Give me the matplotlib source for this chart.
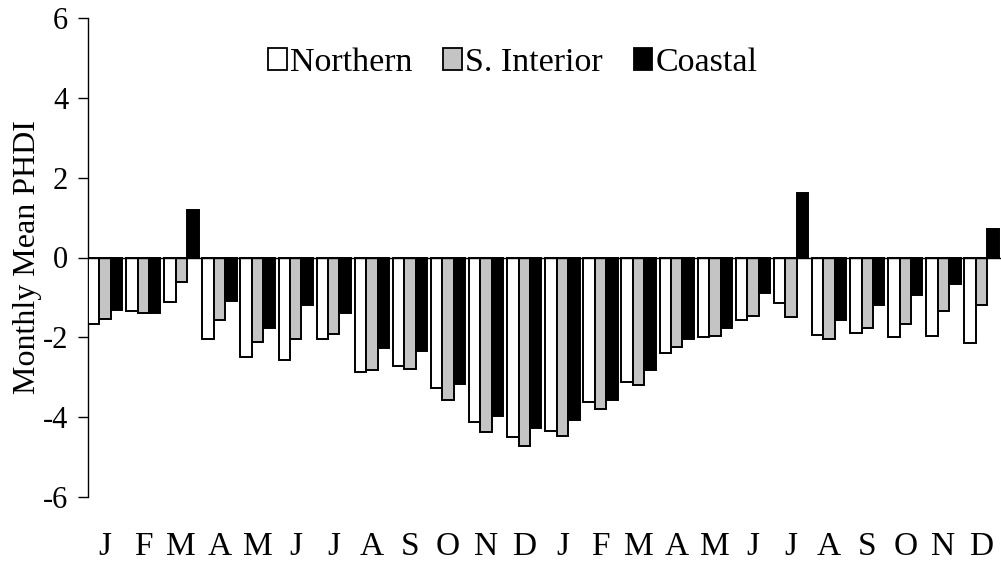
import matplotlib
matplotlib.use("Agg")
import matplotlib.pyplot as plt
import numpy as np
from matplotlib.patches import Patch

months = ["J", "F", "M", "A", "M", "J", "J", "A", "S", "O", "N", "D",
          "J", "F", "M", "A", "M", "J", "J", "A", "S", "O", "N", "D"]
northern = [-1.66, -1.35, -1.12, -2.05, -2.49, -2.56, -2.05, -2.87, -2.71, -3.26, -4.12, -4.49,
            -4.35, -3.62, -3.12, -2.40, -2.00, -1.57, -1.15, -1.93, -1.90, -2.00, -1.96, -2.15]
s_interior = [-1.55, -1.38, -0.61, -1.57, -2.11, -2.04, -1.91, -2.81, -2.80, -3.56, -4.38, -4.71,
              -4.47, -3.79, -3.20, -2.25, -1.97, -1.46, -1.48, -2.03, -1.76, -1.66, -1.34, -1.20]
coastal = [-1.32, -1.40, 1.18, -1.10, -1.77, -1.20, -1.38, -2.27, -2.35, -3.16, -3.96, -4.26,
           -4.08, -3.57, -2.83, -2.03, -1.76, -0.88, 1.62, -1.57, -1.18, -0.94, -0.67, 0.72]
series_names = ["Northern", "S. Interior", "Coastal"]
colors = ["white", "#c4c4c4", "black"]

plt.rcParams['font.family'] = ['Liberation Serif', 'DejaVu Serif']

fig = plt.figure(figsize=(10.01, 5.67), dpi=100)
W, H = 1001, 567
ax = fig.add_axes([88 / W, (H - 497) / H, (1000.6 - 88) / W, (497 - 18) / H])

x = np.arange(len(months))
w = 0.3
for k, (vals, c) in enumerate(zip([northern, s_interior, coastal], colors)):
    ax.bar(x + (k - 1) * w, vals, width=w, color=c, edgecolor="black", linewidth=1.4, zorder=3)

ax.axhline(0, color="black", linewidth=1.0, zorder=4)
ax.set_xlim(-0.45, 23.5)
ax.set_ylim(-6, 6)
ax.set_yticks([-6, -4, -2, 0, 2, 4, 6])
ax.set_yticklabels(["-6", "-4", "-2", "0", "2", "4", "6"])
ax.set_xticks(x)
ax.set_xticklabels(months)
ax.tick_params(axis='x', length=0, pad=25, labelsize=24)
ax.tick_params(axis='y', direction='out', length=7.2, width=1.0, pad=7, labelsize=22)
for s in ["top", "right", "bottom"]:
    ax.spines[s].set_visible(False)
ax.spines["left"].set_linewidth(1.0)
ax.set_ylabel("Monthly Mean PHDI", fontsize=23, labelpad=1)

handles = [Patch(facecolor=c, edgecolor="black", linewidth=1.3) for c in colors]
fig.legend(handles, series_names, loc="center", bbox_to_anchor=(513 / W, 1 - 63 / H),
           ncol=3, frameon=False, fontsize=24.5, handlelength=0.55, handleheight=0.62,
           handletextpad=0.1, columnspacing=0.9, borderaxespad=0)

fig.savefig("out.png", dpi=100)
